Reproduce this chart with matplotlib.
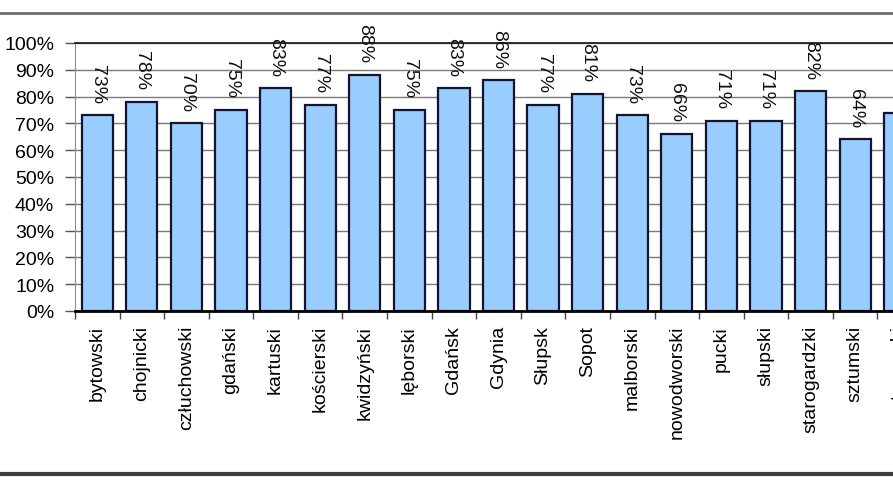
import numpy as np
import matplotlib.pyplot as plt
from matplotlib.lines import Line2D

powiaty = ["bytowski", "chojnicki", "człuchowski", "gdański", "kartuski",
           "kościerski", "kwidzyński", "lęborski", "Gdańsk", "Gdynia",
           "Słupsk", "Sopot", "malborski", "nowodworski", "pucki",
           "słupski", "starogardzki", "sztumski", "tczewski"]
procent = [73, 78, 70, 75, 83, 77, 88, 75, 83, 86,
           77, 81, 73, 66, 71, 71, 82, 64, 74]
yticks = [0, 10, 20, 30, 40, 50, 60, 70, 80, 90, 100]

plt.rcParams['font.family'] = ['Liberation Sans', 'DejaVu Sans']

fig = plt.figure(figsize=(8.93, 5.02), dpi=100)
fig.patch.set_facecolor('white')
# axes wider than the figure: the reference is cropped on the right
ax = fig.add_axes([0.084, 0.3785, 0.9485, 0.534])

x = np.arange(len(powiaty))
ax.bar(x, procent, width=0.7, color='#99CCFF', edgecolor='#141430',
       linewidth=1.6, zorder=3)

for xi, v in zip(x, procent):
    ax.annotate(f"{v}%", (xi, v), xytext=(0, 9), textcoords='offset points',
                rotation=270, ha='center', va='bottom', fontsize=14,
                color='#111111')

ax.set_xlim(-0.5, len(powiaty) - 0.5)
ax.set_ylim(0, 100)
ax.set_yticks(yticks)
ax.set_yticklabels([f"{t}%" for t in yticks], fontsize=14)
ax.yaxis.grid(True, color='#7a7a7a', linewidth=1, zorder=0)

ax.set_xticks(x)
ax.set_xticklabels(powiaty, rotation=90, fontsize=14)
ax.set_xticks(np.arange(len(powiaty) + 1) - 0.5, minor=True)
ax.tick_params(axis='x', which='major', length=0, pad=10)
ax.tick_params(axis='x', which='minor', length=6, width=1, color='#444444')
ax.tick_params(axis='y', length=7, width=1, color='#555555', pad=8)

ax.spines['right'].set_visible(False)
ax.spines['top'].set_color('#222222')
ax.spines['top'].set_linewidth(1.3)
ax.spines['left'].set_color('#8c8c8c')
ax.spines['bottom'].set_color('#000000')
ax.spines['bottom'].set_linewidth(2)
ax.spines['bottom'].set_zorder(4)

# frame lines of the original chart box
fig.add_artist(Line2D([0, 1], [0.972, 0.972], transform=fig.transFigure,
                      color='#6e6e6e', linewidth=2))
fig.add_artist(Line2D([0, 1], [0.053, 0.053], transform=fig.transFigure,
                      color='#3c3c3c', linewidth=3))

fig.savefig("out.png", dpi=100)
